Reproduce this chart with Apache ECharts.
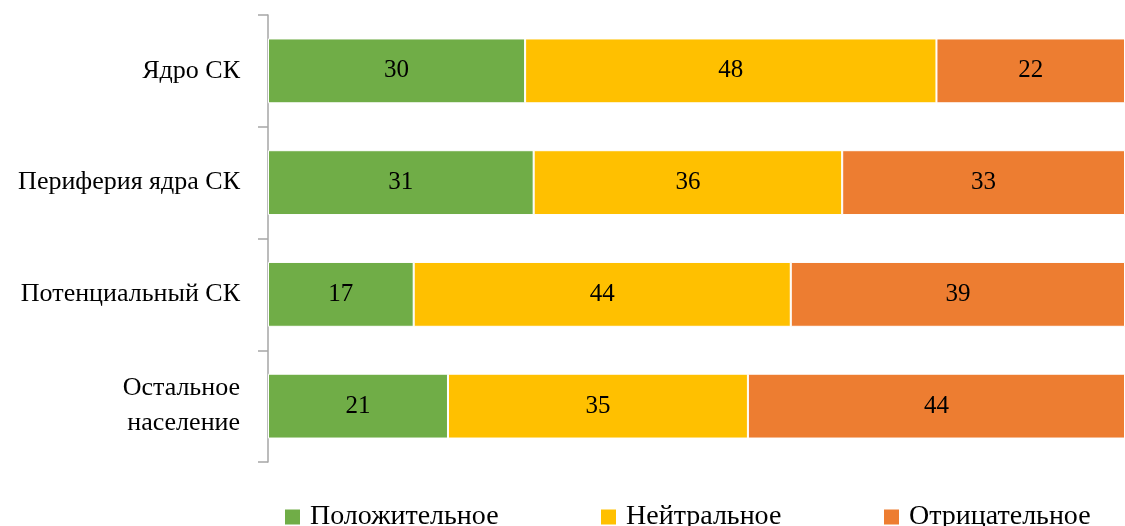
<!DOCTYPE html>
<html>
<head>
<meta charset="utf-8">
<style>
  html, body { margin: 0; padding: 0; background: #fff; }
  #chart { width: 1125px; height: 526px; }
</style>
<script src="https://cdn.jsdelivr.net/npm/echarts@6/dist/echarts.min.js"></script>
</head>
<body>
<div id="chart"></div>
<script>
// categories, top to bottom
const categories = ["Ядро СК", "Периферия ядра СК", "Потенциальный СК", "Остальное\nнаселение"];
const seriesNames = ["Положительное", "Нейтральное", "Отрицательное"];
const positive = [30, 31, 17, 21];
const neutral = [48, 36, 44, 35];
const negative = [22, 33, 39, 44];

const colors = ["#70AD47", "#FFC000", "#ED7D31"];
const font = "'Liberation Serif', 'DejaVu Serif', serif";

const myChart = echarts.init(document.getElementById("chart"));

function makeSeries(name, values, color) {
  return {
    name: name,
    type: "bar",
    stack: "total",
    data: values,
    barCategoryGap: "42%",
    itemStyle: { color: color, borderColor: "#fff", borderWidth: 1 },
    label: {
      show: true,
      position: "inside",
      color: "#000",
      fontSize: 25,
      fontFamily: font,
    },
    emphasis: { disabled: true },
  };
}

const legendLefts = [283, 599, 882];

const option = {
  animation: false,
  grid: { left: 268, right: 0, top: 15, bottom: 64 },
  xAxis: { type: "value", min: 0, max: 100, show: false },
  yAxis: {
    type: "category",
    inverse: true,
    data: categories,
    axisLine: { show: true, lineStyle: { color: "#a6a6a6", width: 1.5 } },
    axisTick: { show: true, length: 10, lineStyle: { color: "#a6a6a6", width: 1.5 } },
    axisLabel: {
      margin: 28,
      color: "#000",
      fontSize: 26,
      fontFamily: font,
      lineHeight: 35,
      align: "right",
    },
  },
  legend: seriesNames.map((n, i) => ({
    left: legendLefts[i],
    top: 503,
    padding: 0,
    data: [n],
    itemWidth: 17,
    itemHeight: 17,
    icon: "rect",
    selectedMode: false,
    textStyle: { color: "#000", fontSize: 28, fontFamily: font, padding: [0, 0, 0, 4] },
  })),
  series: [
    makeSeries(seriesNames[0], positive, colors[0]),
    makeSeries(seriesNames[1], neutral, colors[1]),
    makeSeries(seriesNames[2], negative, colors[2]),
  ],
};

myChart.setOption(option);
</script>
</body>
</html>
